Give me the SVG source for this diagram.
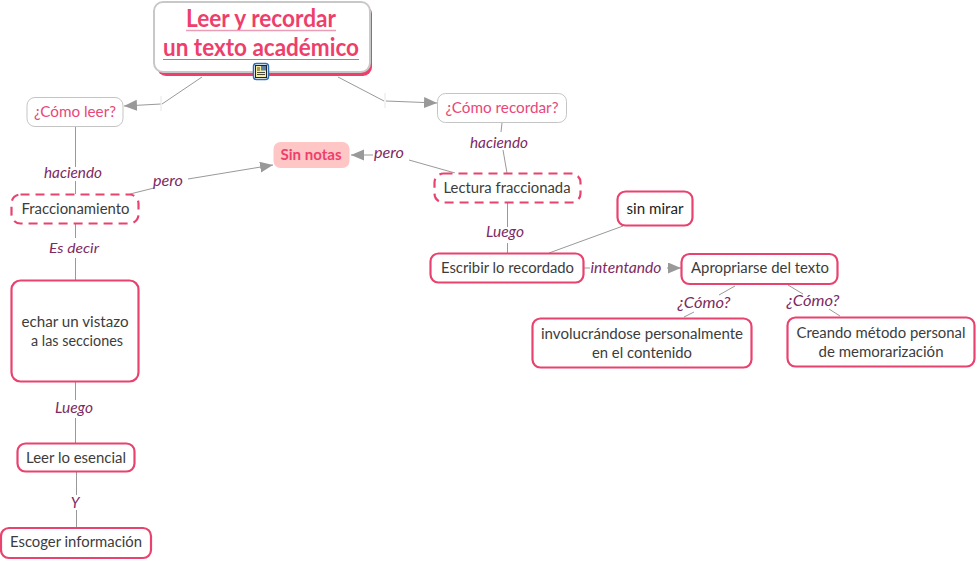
<svg xmlns="http://www.w3.org/2000/svg" width="977" height="561" viewBox="0 0 977 561">
<style>
text{font-family:Lato,"Open Sans","Liberation Sans",sans-serif;text-anchor:middle}
.t{font-size:14.800px;fill:#3c3c3c}
.p{font-size:15px;fill:#e8477a}
.l{font-size:15px;font-style:italic;fill:#7d2a62}
.n{fill:#fff;stroke:#e8436f;stroke-width:2.2}
.d{fill:#fff;stroke:#e8436f;stroke-width:2.2;stroke-dasharray:9 6}
.g{fill:#fff;stroke:#c4c4c4;stroke-width:1}
.c{fill:none;stroke:#999;stroke-width:1}
.a{marker-end:url(#ah)}
.k{stroke:#e6e6e6;stroke-width:1}
.h{font-size:25.500px;font-weight:700;fill:#ee3f6c}
</style>
<defs>
<marker id="ah" markerUnits="userSpaceOnUse" markerWidth="14" markerHeight="12" refX="13" refY="5.500" orient="auto"><path d="M0 0L13 5.500L0 11Z" fill="#999"/></marker>
</defs>
<rect width="977" height="561" fill="#fff"/>
<g id="connectors">
<path class="c" d="M202 77L162 104"/><path class="c a" d="M161 104L124 106"/>
<path class="k" d="M161 96V111M385 93V108"/>
<path class="c" d="M338 77L384 101"/><path class="c a" d="M386 101L437 103"/>
<path class="c" d="M75.500 126V167M75.500 181V194M75.500 224V238M75.500 258V280M75.500 382V400M75.500 418V443M76.500 472V495M76.500 510V527"/>
<path class="c" d="M130 194L154 188"/><path class="c a" d="M188 179L273 165"/>
<path class="c" d="M502 123L501 132M503 150L507 173M409 160L455 173"/>
<path class="c a" d="M373 155H351"/>
<path class="c" d="M507.500 203V227M507.500 243V253M623 226L549 253M584 268H590"/>
<path class="c a" d="M667 268H681"/>
<path class="c" d="M735 286L719 295M694 312L684 317M788 285L803 294M829 309L840 316"/>
</g>
<g id="title">
<rect x="157" y="5" width="215" height="71" rx="9" fill="#ee3f6c"/>
<rect x="154" y="2" width="216" height="70" rx="9" fill="#fff" stroke="#c8c8c8" stroke-width="2"/>
<text class="h" x="261" y="27" textLength="150" lengthAdjust="spacingAndGlyphs">Leer y recordar</text>
<text class="h" x="261" y="56" textLength="196" lengthAdjust="spacingAndGlyphs">un texto académico</text>
<path d="M186 30.500H336" stroke="#ea9db4" stroke-width="1.500"/>
<path d="M163 59.500H359" stroke="#ee5f85" stroke-width="1.200"/>
<rect x="253.500" y="63.500" width="15" height="16" rx="3" fill="#fff" stroke="#2f6db5" stroke-width="1.500"/>
<rect x="255.500" y="65.500" width="11" height="12" fill="#f5eda0" stroke="#222" stroke-width="1"/>
<rect x="261" y="66" width="5" height="4.500" fill="#5a7fa8"/>
<path d="M257 68H260M257 70H260M257 72.500H265M257 74.500H265" stroke="#222" stroke-width="0.800"/>
</g>
<g id="como-leer"><rect class="g" x="27" y="97.500" width="96" height="29" rx="8"/><text class="p" x="75" y="117" textLength="82" lengthAdjust="spacingAndGlyphs">¿Cómo leer?</text></g>
<g id="como-recordar"><rect class="g" x="437.500" y="93.500" width="129" height="29" rx="8"/><text class="p" x="502" y="113" textLength="113" lengthAdjust="spacingAndGlyphs">¿Cómo recordar?</text></g>
<g id="sin-notas"><rect x="273.500" y="142" width="76" height="26" rx="7" fill="#ffc6c6"/><text x="311" y="160" textLength="61" lengthAdjust="spacingAndGlyphs" style="font-size:14.800px;font-weight:700;fill:#ee3f6c">Sin notas</text></g>
<g id="fraccionamiento"><rect class="d" x="11.500" y="194.500" width="127" height="29" rx="9"/><text class="t" x="75.500" y="214" textLength="108" lengthAdjust="spacingAndGlyphs">Fraccionamiento</text></g>
<g id="lectura"><rect class="d" x="434.500" y="173.500" width="146" height="29" rx="9"/><text class="t" x="507" y="193" textLength="127" lengthAdjust="spacingAndGlyphs">Lectura fraccionada</text></g>
<g id="escribir"><rect class="n" x="430.500" y="253.500" width="153" height="29" rx="8"/><text class="t" x="507.500" y="273" textLength="133" lengthAdjust="spacingAndGlyphs">Escribir lo recordado</text></g>
<g id="sin-mirar"><rect class="n" x="617.500" y="191.500" width="75" height="34" rx="8"/><text class="t" x="655" y="214" textLength="57" lengthAdjust="spacingAndGlyphs" style="fill:#222">sin mirar</text></g>
<g id="apropriarse"><rect class="n" x="681.500" y="254" width="156" height="30" rx="8"/><text class="t" x="760" y="273" textLength="138" lengthAdjust="spacingAndGlyphs">Apropriarse del texto</text></g>
<g id="involucrandose"><rect class="n" x="532.500" y="318.500" width="219" height="49" rx="8"/><text class="t" x="642" y="339" textLength="202" lengthAdjust="spacingAndGlyphs">involucrándose personalmente</text><text class="t" x="642" y="358" textLength="100" lengthAdjust="spacingAndGlyphs">en el contenido</text></g>
<g id="creando"><rect class="n" x="787.500" y="317.500" width="187" height="49" rx="8"/><text class="t" x="881" y="338" textLength="169" lengthAdjust="spacingAndGlyphs">Creando método personal</text><text class="t" x="881" y="357" textLength="125" lengthAdjust="spacingAndGlyphs">de memorarización</text></g>
<g id="echar"><rect class="n" x="11.500" y="280.500" width="127" height="101" rx="9"/><text class="t" x="75" y="327" textLength="107" lengthAdjust="spacingAndGlyphs">echar un vistazo</text><text class="t" x="77" y="346" textLength="92" lengthAdjust="spacingAndGlyphs">a las secciones</text></g>
<g id="leer-esencial"><rect class="n" x="17.500" y="443.500" width="117" height="28" rx="8"/><text class="t" x="76" y="463" textLength="100" lengthAdjust="spacingAndGlyphs">Leer lo esencial</text></g>
<g id="escoger"><rect class="n" x="1" y="528" width="150" height="30" rx="8"/><text class="t" x="76" y="547" textLength="132" lengthAdjust="spacingAndGlyphs">Escoger información</text></g>
<g id="labels">
<text class="l" x="73" y="178" textLength="58" lengthAdjust="spacingAndGlyphs">haciendo</text>
<text class="l" x="168" y="186" textLength="30" lengthAdjust="spacingAndGlyphs">pero</text>
<text class="l" x="74" y="253" textLength="50" lengthAdjust="spacingAndGlyphs" style="font-size:14px">Es decir</text>
<text class="l" x="74" y="413" textLength="38" lengthAdjust="spacingAndGlyphs">Luego</text>
<text class="l" x="75" y="508">Y</text>
<text class="l" x="499" y="148" textLength="58" lengthAdjust="spacingAndGlyphs">haciendo</text>
<text class="l" x="389" y="158" textLength="30" lengthAdjust="spacingAndGlyphs">pero</text>
<text class="l" x="505" y="237" textLength="38" lengthAdjust="spacingAndGlyphs">Luego</text>
<text class="l" x="626" y="273" textLength="71" lengthAdjust="spacingAndGlyphs">intentando</text>
<text class="l" x="704" y="308" textLength="53" lengthAdjust="spacingAndGlyphs">¿Cómo?</text>
<text class="l" x="813" y="306" textLength="53" lengthAdjust="spacingAndGlyphs">¿Cómo?</text>
</g>
</svg>
